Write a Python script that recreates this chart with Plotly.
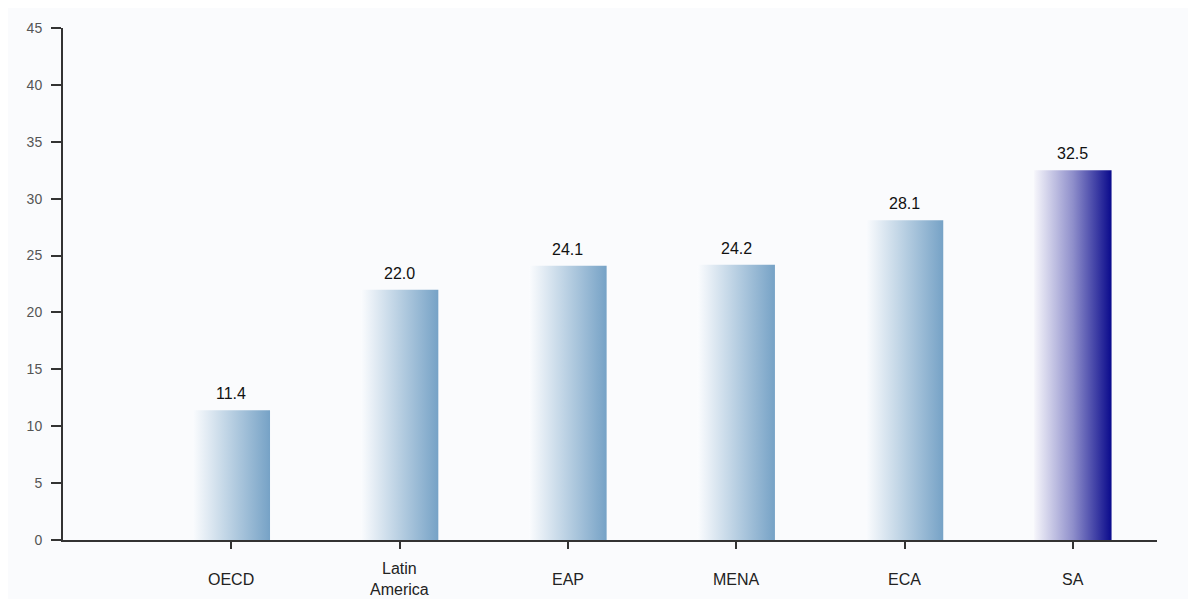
import plotly.graph_objects as go

categories = ["OECD", "Latin<br>America", "EAP", "MENA", "ECA", "SA"]
values = [11.4, 22.0, 24.1, 24.2, 28.1, 32.5]
value_labels = ["11.4", "22.0", "24.1", "24.2", "28.1", "32.5"]
y_ticks = [0, 5, 10, 15, 20, 25, 30, 35, 40, 45]

blue_scale = [[0, "#fbfcfe"], [0.5, "#b8cfe2"], [1, "#76a2c6"]]
navy_scale = [[0, "#f6f6fb"], [0.5, "#8f8fcb"], [1, "#0a0a8c"]]

# page body has an 8px margin, so the figure is 8px smaller than the window
W, H = 1188, 591
ML, MR, MT, MB = 55, 39, 16, 59

bar_w = 0.46
fig = go.Figure()
for i, (c, v) in enumerate(zip(categories, values)):
    scale = navy_scale if i == len(values) - 1 else blue_scale
    x0, x1 = i - bar_w / 2, i + bar_w / 2
    fig.add_trace(go.Scatter(
        x=[x0, x1, x1, x0, x0], y=[0, 0, v, v, 0],
        mode="lines", line=dict(width=0), fill="toself",
        fillgradient=dict(type="horizontal", colorscale=scale),
        hoverinfo="skip", showlegend=False,
    ))
    fig.add_annotation(x=i, y=v, text=value_labels[i], showarrow=False,
                       yanchor="bottom", yshift=6,
                       font=dict(family="Liberation Sans, Arial", size=16, color="#111"))
    fig.add_annotation(x=i, y=0, yref="y", text=c, showarrow=False,
                       yanchor="middle", yshift=-39,
                       font=dict(family="Liberation Sans, Arial", size=16, color="#222"))

fig.update_layout(
    width=W, height=H,
    margin=dict(l=ML, r=MR, t=MT, b=MB),
    paper_bgcolor="#fafbfd", plot_bgcolor="rgba(0,0,0,0)",
    showlegend=False,
    xaxis=dict(range=[-1, 5.5], tickvals=list(range(len(categories))),
               ticktext=[""] * len(categories),
               showgrid=False, zeroline=False, showline=True,
               linecolor="#333", linewidth=2, ticks="outside", ticklen=7,
               tickwidth=2, tickcolor="#333"),
    yaxis=dict(range=[0, 45], tickvals=y_ticks, showgrid=False, zeroline=False,
               showline=True, linecolor="#333", linewidth=2,
               ticks="outside", ticklen=10, tickwidth=2, tickcolor="#333",
               ticklabelstandoff=6,
               tickfont=dict(family="Liberation Sans, Arial", size=14, color="#555")),
)

fig.write_html("out.html")
